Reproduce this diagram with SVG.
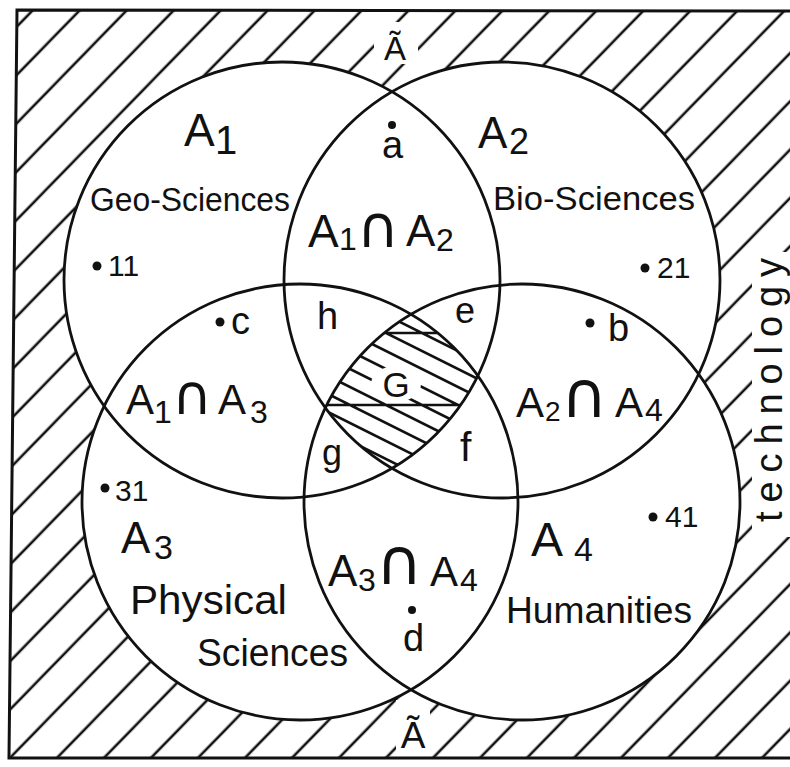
<svg xmlns="http://www.w3.org/2000/svg" width="790" height="767" viewBox="0 0 790 767">
<style>
.c{fill:none;stroke:#111;stroke-width:2.8}
.w{fill:#fff;stroke:none}
.t{font-family:"Liberation Sans",Arial,sans-serif;fill:#111}
.n{font-family:"DejaVu Sans",sans-serif}
.d{fill:#111}
.h{stroke:#111;stroke-width:2.6;fill:none}
</style>
<defs>
<pattern id="hp" patternUnits="userSpaceOnUse" width="33.68" height="50" patternTransform="rotate(44.23)">
<line x1="30.62" y1="-1" x2="30.62" y2="51" stroke="#111" stroke-width="2.6"/>
</pattern>
<clipPath id="frameclip"><path d="M17,10 L790,11 L790,758 L9,758 Z"/></clipPath>
<clipPath id="gclip"><path d="M411,314.4 A218,218 0 0 1 477.8,375.9 A218,218 0 0 1 392,468.2 A218,218 0 0 1 325.2,406.1 A218,218 0 0 1 411,314.4 Z"/></clipPath>
</defs>
<rect width="790" height="767" fill="#fff"/>
<g id="outer-hatch">
<rect x="0" y="0" width="790" height="767" fill="url(#hp)" clip-path="url(#frameclip)"/>
<rect class="w" x="374" y="22" width="44" height="42"/>
<rect class="w" x="396" y="700" width="34" height="52"/>
<rect class="w" x="752" y="252" width="38" height="285"/>
</g>
<g id="fills">
<circle class="w" cx="282" cy="280" r="218"/>
<circle class="w" cx="502" cy="280" r="218"/>
<circle class="w" cx="300" cy="502" r="218"/>
<circle class="w" cx="522" cy="502" r="218"/>
</g>
<g id="G">
<g clip-path="url(#gclip)">
<path class="h" d="M300,236 L520,346 M300,254 L520,364 M300,272 L520,382 M300,290 L520,400 M300,308 L520,418 M300,326 L520,436 M300,344 L520,454 M300,362 L520,472 M300,380 L520,490 M300,398 L520,508 M300,416 L520,526 M300,434 L520,544 M300,333 H520 M300,405 H520"/>
<ellipse class="w" cx="396" cy="384" rx="25" ry="18"/>
</g>
<text class="t" x="396" y="397" font-size="35" text-anchor="middle">G</text>
</g>
<g id="A1">
<circle class="c" cx="282" cy="280" r="218"/>
<text class="t" x="184" y="146" font-size="46">A<tspan x="215" y="154" font-size="40">1</tspan></text>
<text class="t" x="90" y="211" font-size="34" textLength="200" lengthAdjust="spacingAndGlyphs">Geo-Sciences</text>
<circle class="d" cx="97" cy="266" r="4.5"/>
<text class="t" x="108" y="276" font-size="30">11</text>
</g>
<g id="A2">
<circle class="c" cx="502" cy="280" r="218"/>
<text class="t" x="478" y="148" font-size="44">A<tspan x="509" y="154" font-size="36">2</tspan></text>
<text class="t" x="493" y="210" font-size="34" textLength="202" lengthAdjust="spacingAndGlyphs">Bio-Sciences</text>
<circle class="d" cx="645" cy="268" r="4.5"/>
<text class="t" x="657" y="278" font-size="30">21</text>
</g>
<g id="A3">
<circle class="c" cx="300" cy="502" r="218"/>
<text class="t" x="121" y="553" font-size="44">A<tspan x="154" y="559" font-size="34">3</tspan></text>
<text class="t" x="130" y="614" font-size="40" textLength="157" lengthAdjust="spacingAndGlyphs">Physical</text>
<text class="t" x="197" y="666" font-size="38" textLength="151" lengthAdjust="spacingAndGlyphs">Sciences</text>
<circle class="d" cx="105" cy="488" r="4.5"/>
<text class="t" x="115" y="501" font-size="30">31</text>
</g>
<g id="A4">
<circle class="c" cx="522" cy="502" r="218"/>
<text class="t" x="531" y="556" font-size="48">A<tspan x="574" y="561" font-size="34">4</tspan></text>
<text class="t" x="506" y="623" font-size="36" textLength="186" lengthAdjust="spacingAndGlyphs">Humanities</text>
<circle class="d" cx="653" cy="517" r="4.5"/>
<text class="t" x="665" y="527" font-size="30">41</text>
</g>
<g id="A1nA2">
<text class="t" x="308" y="247" font-size="46">A<tspan x="339" y="250" font-size="32">1</tspan><tspan class="n" x="357" y="247" font-size="58">∩</tspan><tspan x="406" y="246" font-size="44">A</tspan><tspan x="436" y="251" font-size="32">2</tspan></text>
<circle class="d" cx="392" cy="125" r="4"/>
<text class="t" x="382" y="158" font-size="38">a</text>
</g>
<g id="A1nA3">
<text class="t" x="126" y="414" font-size="42">A<tspan x="154" y="423" font-size="32">1</tspan><tspan class="n" x="172" y="414" font-size="55">∩</tspan><tspan x="218" y="414" font-size="42">A</tspan><tspan x="250" y="423" font-size="32">3</tspan></text>
<circle class="d" cx="220" cy="322" r="4.5"/>
<text class="t" x="231" y="334" font-size="38">c</text>
</g>
<g id="A2nA4">
<text class="t" x="516" y="417" font-size="42">A<tspan x="545" y="421" font-size="28">2</tspan><tspan class="n" x="561" y="417" font-size="64">∩</tspan><tspan x="615" y="417" font-size="42">A</tspan><tspan x="645" y="421" font-size="32">4</tspan></text>
<circle class="d" cx="590" cy="323" r="4.5"/>
<text class="t" x="608" y="341" font-size="38">b</text>
</g>
<g id="A3nA4">
<text class="t" x="328" y="586" font-size="44">A<tspan x="358" y="591" font-size="32">3</tspan><tspan class="n" x="376" y="584" font-size="64">∩</tspan><tspan x="430" y="586" font-size="42">A</tspan><tspan x="460" y="591" font-size="32">4</tspan></text>
<circle class="d" cx="412" cy="610" r="4"/>
<text class="t" x="403" y="651" font-size="38">d</text>
</g>
<g id="regions">
<text class="t" x="317" y="329" font-size="38">h</text>
<text class="t" x="455" y="323" font-size="36">e</text>
<text class="t" x="322" y="465" font-size="36">g</text>
<text class="t" x="460" y="461" font-size="41">f</text>
</g>
<g id="universe">
<path d="M790,11 L17,10 L9,758 L790,758" fill="none" stroke="#111" stroke-width="3"/>
<text class="t" x="395" y="60" font-size="33" text-anchor="middle">Ã</text>
<text class="t" x="413" y="748" font-size="37" text-anchor="middle">Ã</text>
<text class="t" transform="translate(782,522) rotate(-90)" x="0" y="0" font-size="38" textLength="264" lengthAdjust="spacing">technology</text>
</g>
</svg>
